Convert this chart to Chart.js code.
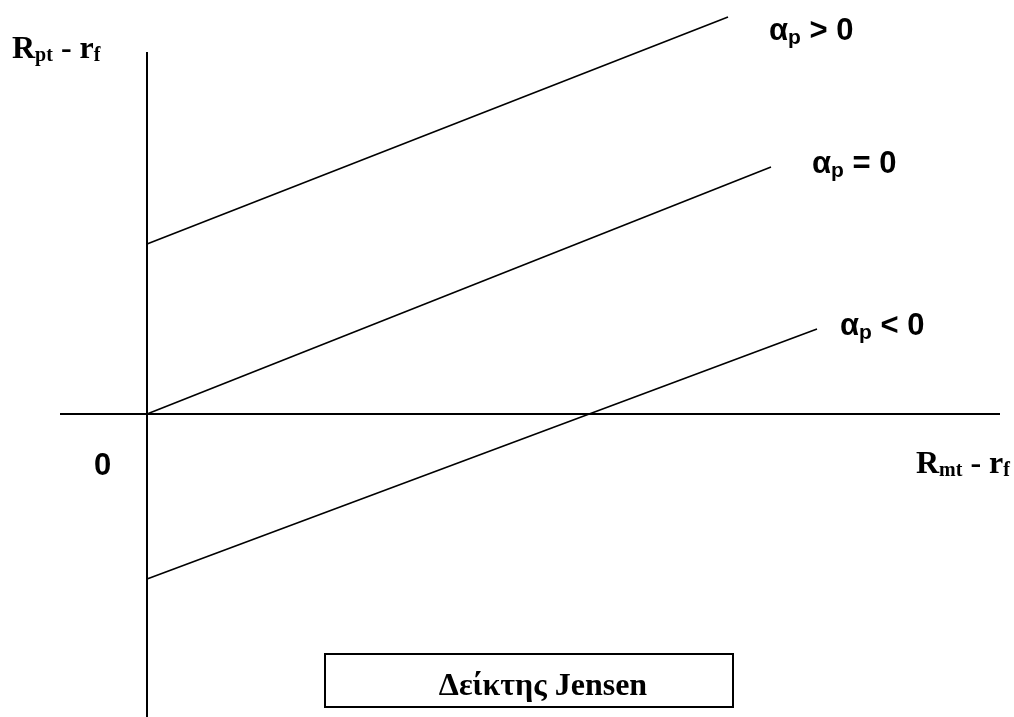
<!DOCTYPE html>
<html>
<head>
<meta charset="utf-8">
<title>Δείκτης Jensen</title>
<script src="https://cdn.jsdelivr.net/npm/chart.js@4/dist/chart.umd.min.js"></script>
<style>
  html, body { margin: 0; padding: 0; background: #ffffff; }
  #wrap { width: 1014px; height: 717px; position: relative; }
</style>
</head>
<body>
<div id="wrap"><canvas id="c" width="1014" height="717"></canvas></div>
<script>
// Excess-return space: x = Rmt - rf, y = Rpt - rf (origin where the axes cross)
const xAxisLine = [{ x: -8.7, y: 0 }, { x: 85.3, y: 0 }];
const yAxisLine = [{ x: 0, y: 36.2 }, { x: 0, y: -30.3 }];

// Characteristic lines for the three Jensen alpha cases
const alphaPositive = [{ x: 0, y: 17.0 }, { x: 58.1, y: 39.7 }];
const alphaZero     = [{ x: 0, y: 0 },    { x: 62.4, y: 24.7 }];
const alphaNegative = [{ x: 0, y: -16.5 }, { x: 67.0, y: 8.5 }];

const lineLabels = [
  { main: 'α', sub: 'p', rest: ' > 0', at: { x: 62.2, y: 37.4 } },
  { main: 'α', sub: 'p', rest: ' = 0', at: { x: 66.5, y: 24.1 } },
  { main: 'α', sub: 'p', rest: ' < 0', at: { x: 69.3, y: 7.9 } }
];
const chartTitle = 'Δείκτης Jensen';

const SANS = 'bold 31px "Liberation Sans", Arial, sans-serif';
const SANS_SUB = 'bold 21px "Liberation Sans", Arial, sans-serif';
const SERIF = 'bold 32px "Liberation Serif", "Times New Roman", serif';
const SERIF_SUB = 'bold 20px "Liberation Serif", "Times New Roman", serif';

// Draws a run of text pieces, each with its own font and baseline shift
function drawRuns(ctx, x, y, runs) {
  let cx = x;
  runs.forEach(r => {
    ctx.font = r.font;
    ctx.fillText(r.text, cx, y + (r.dy || 0));
    cx += ctx.measureText(r.text).width;
  });
}

const annotations = {
  id: 'annotations',
  afterDraw(chart) {
    const ctx = chart.ctx;
    const xs = chart.scales.x, ys = chart.scales.y;
    ctx.save();
    ctx.fillStyle = '#000';
    ctx.textBaseline = 'alphabetic';
    ctx.textAlign = 'left';

    // alpha labels beside each line's end
    lineLabels.forEach(l => {
      drawRuns(ctx, xs.getPixelForValue(l.at.x), ys.getPixelForValue(l.at.y), [
        { text: l.main, font: SANS },
        { text: l.sub, font: SANS_SUB, dy: 4 },
        { text: l.rest, font: SANS }
      ]);
    });

    // axis titles
    drawRuns(ctx, 12, 58, [
      { text: 'R', font: SERIF },
      { text: 'pt', font: SERIF_SUB, dy: 3 },
      { text: ' - r', font: SERIF },
      { text: 'f', font: SERIF_SUB, dy: 3 }
    ]);
    drawRuns(ctx, 916, 473, [
      { text: 'R', font: SERIF },
      { text: 'mt', font: SERIF_SUB, dy: 3 },
      { text: ' - r', font: SERIF },
      { text: 'f', font: SERIF_SUB, dy: 3 }
    ]);
    ctx.font = SANS;
    ctx.fillText('0', 94, 475);

    // framed caption
    ctx.lineWidth = 2;
    ctx.strokeStyle = '#000';
    ctx.strokeRect(325, 654, 408, 53);
    ctx.font = SERIF;
    ctx.textAlign = 'center';
    ctx.fillText(chartTitle, 543, 695);
    ctx.restore();
  }
};

const lineStyle = { borderColor: '#000', pointRadius: 0, showLine: true, fill: false, tension: 0 };

new Chart(document.getElementById('c'), {
  type: 'scatter',
  data: {
    datasets: [
      { label: 'x axis', data: xAxisLine, borderWidth: 2, ...lineStyle },
      { label: 'y axis', data: yAxisLine, borderWidth: 2, ...lineStyle },
      { label: 'αp > 0', data: alphaPositive, borderWidth: 1.6, ...lineStyle },
      { label: 'αp = 0', data: alphaZero, borderWidth: 1.6, ...lineStyle },
      { label: 'αp < 0', data: alphaNegative, borderWidth: 1.6, ...lineStyle }
    ]
  },
  options: {
    responsive: false,
    animation: false,
    layout: { padding: 0 },
    clip: false,
    plugins: { legend: { display: false }, tooltip: { enabled: false }, title: { display: false } },
    scales: {
      x: { type: 'linear', min: -14.7, max: 86.7, display: false },
      y: { type: 'linear', min: -30.3, max: 41.4, display: false }
    }
  },
  plugins: [annotations]
});
</script>
</body>
</html>
